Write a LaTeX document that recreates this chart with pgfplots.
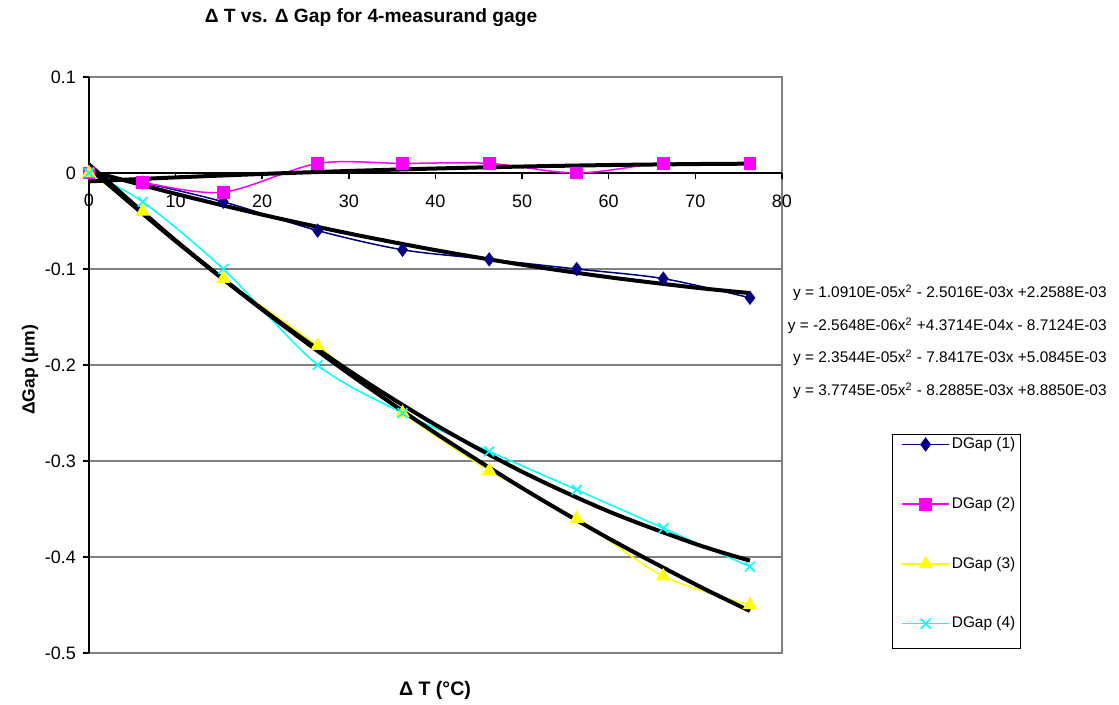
\documentclass[border=0pt]{standalone}
\usepackage{pgfplots}
\pgfplotsset{compat=1.18}
\usepackage{fontspec}
\setmainfont{Liberation Sans}
\definecolor{navyc}{RGB}{0,0,128}
\definecolor{magc}{RGB}{255,0,255}
\definecolor{yelc}{RGB}{255,255,0}
\definecolor{cyac}{RGB}{0,255,255}
\definecolor{gridc}{RGB}{128,128,128}
\begin{document}
\begin{tikzpicture}[x=0.5pt,y=-0.5pt]
\useasboundingbox (0,0) rectangle (1119,705);
\coordinate (plotSW) at (89,653);
\draw[gridc, line width=0.75pt] (89,77) rectangle (782,653);
\begin{axis}[
  at={(plotSW)}, anchor=south west,
  scale only axis, width=346.5pt, height=288pt,
  xmin=0, xmax=80, ymin=-0.5, ymax=0.1,
  axis x line=middle, axis y line=left,
  axis line style={-, black, line width=0.75pt},
  every inner x axis line/.append style={-},
  every outer y axis line/.append style={-},
  xtick={0,10,...,80}, ytick={-0.5,-0.4,-0.3,-0.2,-0.1,0,0.1},
  yticklabels={-0.5,-0.4,-0.3,-0.2,-0.1,0,0.1},
  xticklabels={0,10,20,30,40,50,60,70,80},
  tick align=outside, major tick length=3pt,
  tick style={black, line width=0.75pt},
  ymajorgrids, grid style={gridc, line width=0.75pt},
  ticklabel style={font=\fontsize{9}{10}\selectfont},
  xticklabel style={yshift=-4.5pt},
  /pgf/number format/assume math mode=true,
  clip=false,
  legend style={draw=none, fill=none, at={(1.1717,0.3785)}, anchor=north west,
    font=\fontsize{7.7}{9}\selectfont, row sep=20.8pt, inner sep=0pt,
    nodes={inner sep=1pt}},
  legend cell align=left,
  legend image code/.code={\draw[mark repeat=2,mark phase=2,#1] plot coordinates {(0pt,0pt) (11.75pt,0pt) (23.5pt,0pt)};},
]
\addplot[navyc, line width=0.75pt, smooth, mark=diamond*, mark size=3pt, mark options={solid, fill=navyc}] coordinates {
(0,0) (6.2,-0.01) (15.5,-0.03) (26.4,-0.06) (36.2,-0.08) (46.2,-0.09) (56.3,-0.10) (66.3,-0.11) (76.3,-0.13)};
\addlegendentry{DGap (1)}
\addplot[magc, line width=0.75pt, smooth, mark=square*, mark size=2.8pt, mark options={solid, fill=magc}] coordinates {
(0,0) (6.2,-0.01) (15.5,-0.02) (26.4,0.01) (36.2,0.01) (46.2,0.01) (56.3,0.0) (66.3,0.01) (76.3,0.01)};
\addlegendentry{DGap (2)}
\addplot[yelc, line width=0.75pt, smooth, mark=triangle*, mark size=3.4pt, mark options={solid, fill=yelc}] coordinates {
(0,0) (6.2,-0.04) (15.5,-0.11) (26.4,-0.18) (36.2,-0.25) (46.2,-0.31) (56.3,-0.36) (66.3,-0.42) (76.3,-0.45)};
\addlegendentry{DGap (3)}
\addplot[cyac, line width=0.75pt, smooth, mark=x, mark size=3.5pt, mark options={solid, line width=0.8pt}] coordinates {
(0,0) (6.2,-0.03) (15.5,-0.10) (26.4,-0.20) (36.2,-0.25) (46.2,-0.29) (56.3,-0.33) (66.3,-0.37) (76.3,-0.41)};
\addlegendentry{DGap (4)}
% polynomial trendlines (order 2)
\addplot[black, line width=2pt, smooth, forget plot] coordinates {
(0,0.002259) (10,-0.021666) (20,-0.043409) (30,-0.06297) (40,-0.080349) (50,-0.095546) (60,-0.108561) (70,-0.119394) (76.3,-0.125098)};
\addplot[black, line width=2pt, smooth, forget plot] coordinates {
(0,-0.008712) (10,-0.004597) (20,-0.000995) (30,0.002094) (40,0.00467) (50,0.006733) (60,0.008283) (70,0.00932) (76.3,0.009711)};
\addplot[black, line width=2pt, smooth, forget plot] coordinates {
(0,0.005085) (10,-0.070978) (20,-0.142331) (30,-0.208976) (40,-0.270913) (50,-0.32814) (60,-0.380659) (70,-0.428468) (76.3,-0.456171)};
\addplot[black, line width=2pt, smooth, forget plot] coordinates {
(0,0.008885) (10,-0.070226) (20,-0.141787) (30,-0.205799) (40,-0.262263) (50,-0.311177) (60,-0.352543) (70,-0.386359) (76.3,-0.403788)};
\end{axis}
\draw[black, line width=0.5pt] (892,435) rectangle (1020,648);
\node[font=\fontsize{9}{10}\selectfont] at (89,200) {0};
\node[font=\bfseries\fontsize{9.6}{11}\selectfont] at (371,18) {Δ T vs. Δ Gap for 4-measurand gage};
\node[font=\bfseries\fontsize{9.8}{11}\selectfont] at (435,690) {Δ T (°C)};
\node[font=\bfseries\fontsize{8.8}{10}\selectfont, rotate=90] at (30,370) {ΔGap (μm)};
\begin{scope}[every node/.style={anchor=east, font=\fontsize{7.7}{9}\selectfont, inner sep=0pt}]
\node at (1107,293) {y = 1.0910E-05x\textsuperscript{2} - 2.5016E-03x +2.2588E-03};
\node at (1107,326) {y = -2.5648E-06x\textsuperscript{2} +4.3714E-04x - 8.7124E-03};
\node at (1107,358) {y = 2.3544E-05x\textsuperscript{2} - 7.8417E-03x +5.0845E-03};
\node at (1107,391) {y = 3.7745E-05x\textsuperscript{2} - 8.2885E-03x +8.8850E-03};
\end{scope}
\end{tikzpicture}
\end{document}
